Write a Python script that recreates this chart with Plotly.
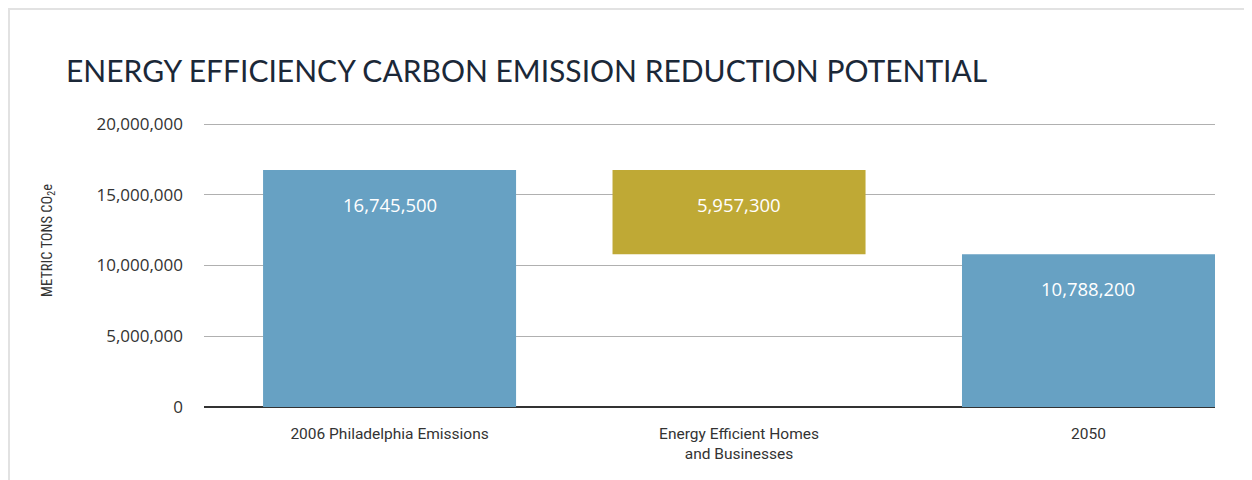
import plotly.graph_objects as go

categories = ["2006 Philadelphia Emissions", "Energy Efficient Homes<br>and Businesses", "2050"]
measures = ["absolute", "relative", "total"]
values = [16745500, -5957300, 10788200]
label_text = ["16,745,500", "5,957,300", "10,788,200"]
y_ticks = [0, 5000000, 10000000, 15000000, 20000000]
y_tick_text = ["0", "5,000,000", "10,000,000", "15,000,000", "20,000,000"]

BLUE = "#67a1c3"
GOLD = "#bfa935"

xpos = list(range(len(categories)))

fig = go.Figure()
fig.add_trace(go.Waterfall(
    x=xpos,
    y=[values[0], values[1], 0],
    measure=measures,
    width=0.724,
    increasing=dict(marker=dict(color=BLUE)),
    decreasing=dict(marker=dict(color=GOLD)),
    totals=dict(marker=dict(color=BLUE)),
    connector=dict(visible=False),
    hoverinfo="skip",
))

# labels near top of each bar
tops = [values[0], values[0], values[2]]
for i, (t, txt) in enumerate(zip(tops, label_text)):
    fig.add_annotation(x=i, y=t, text=txt, showarrow=False, yanchor="middle",
                       yshift=-34, font=dict(family="Open Sans", size=18.5, color="white"))

# page offset of 8px (body margin) taken into account
W, H = 1252, 480
L, R, T, B = 196, 45, 113, 81
pw, ph = W - L - R, H - T - B
def px_x(p): return (p - L) / pw
def px_y(p): return (H - B - p) / ph

# y axis title
fig.add_annotation(xref="paper", yref="paper", x=px_x(40), y=px_y(233), text="METRIC TONS CO<sub>2</sub>e",
                   textangle=-90, showarrow=False, xanchor="center", yanchor="middle",
                   font=dict(family="Roboto Condensed, Liberation Sans Narrow, Arial Narrow, sans-serif", size=14.5, color="#333"))

# frame
fig.add_shape(type="rect", xref="paper", yref="paper",
              x0=px_x(0.5), x1=px_x(1300), y0=px_y(0.5), y1=px_y(600),
              line=dict(color="#e2e2e2", width=3), layer="below")

fig.update_layout(
    width=W, height=H,
    margin=dict(l=L, r=R, t=T, b=B),
    paper_bgcolor="white", plot_bgcolor="white",
    showlegend=False,
    title=dict(text="ENERGY EFFICIENCY CARBON EMISSION REDUCTION POTENTIAL",
               x=58 / W, xanchor="left", y=1 - 63 / H, yanchor="middle",
               font=dict(family="Lato", size=30, color="#1b2838")),
)
fig.update_xaxes(range=[-0.531, 2.362], tickvals=xpos, ticktext=categories,
                 showgrid=False, zeroline=False, showline=False,
                 ticks="", ticklabelstandoff=15,
                 tickfont=dict(family="Roboto", size=15.5, color="#333"))
fig.update_yaxes(range=[0, 20212000], tickvals=y_ticks, ticktext=y_tick_text,
                 showgrid=True, gridcolor="#b0b0b0", gridwidth=1,
                 zeroline=True, zerolinecolor="#333", zerolinewidth=2,
                 showline=False, ticks="", ticklabelstandoff=20,
                 tickfont=dict(family="Open Sans", size=17, color="#333"))

fig.write_html("out.html")
